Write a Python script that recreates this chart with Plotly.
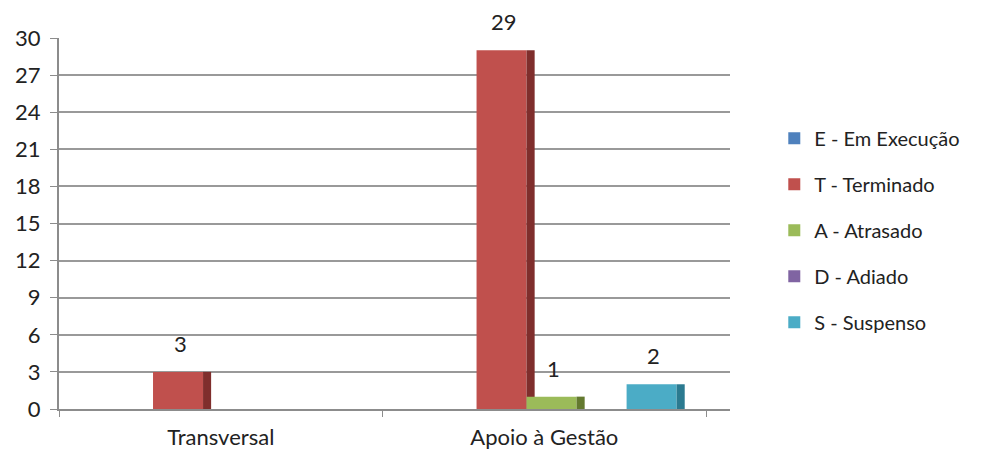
import plotly.graph_objects as go

categorias = ['Transversal', 'Apoio à Gestão']
series = ['E - Em Execução', 'T - Terminado', 'A - Atrasado', 'D - Adiado', 'S - Suspenso']
valores = {
    'E - Em Execução': [0, 0],
    'T - Terminado': [3, 29],
    'A - Atrasado': [0, 1],
    'D - Adiado': [0, 0],
    'S - Suspenso': [0, 2],
}
cores = ['#4F81BD', '#C0504D', '#9BBB59', '#8064A2', '#4BACC6']
sombras = ['#2E5283', '#7F2E2C', '#63792F', '#4F3B6A', '#2B7A90']
yticks = [0, 3, 6, 9, 12, 15, 18, 21, 24, 27, 30]

w = 0.1546     # largura de cada barra (frente)
ws = 0.025     # largura da face lateral
base = -0.364  # deslocamento da primeira serie
cat_px = 323.5  # largura de uma categoria em pixels

f = go.Figure()
anots = []
for i, nome in enumerate(series):
    v = valores[nome]
    off = base + i * w
    f.add_trace(go.Bar(
        x=categorias, y=v, name=nome, legendgroup=nome,
        marker=dict(color=cores[i], line=dict(width=0)),
        width=w, offset=off,
    ))
    # face lateral escura (efeito 3D)
    f.add_trace(go.Bar(
        x=categorias, y=v, legendgroup=nome, showlegend=False,
        marker=dict(color=sombras[i], line=dict(width=0)),
        width=ws, offset=off + w, hoverinfo='skip',
    ))
    for c, val in zip(categorias, v):
        if val:
            anots.append(dict(x=c, y=val, text=str(val), showarrow=False,
                              xshift=(off + w / 2) * cat_px + 2, yshift=13,
                              yanchor='bottom', font=dict(size=22, color='#222')))

f.update_layout(
    width=984, height=455,
    barmode='overlay',
    plot_bgcolor='white', paper_bgcolor='white',
    font=dict(family='Lato, Open Sans, sans-serif', size=22, color='#222'),
    margin=dict(l=51, r=262, t=30, b=54, autoexpand=False),
    annotations=anots,
    legend=dict(x=1.066, y=0.482, yanchor='middle', xanchor='left',
                tracegroupgap=17, font=dict(size=20)),
    xaxis=dict(range=[-0.5, 1.574], showline=True, linecolor='#8c8c8c', linewidth=2,
               tickson='boundaries', ticks='outside', ticklen=6, tickcolor='#8c8c8c',
               ticklabelstandoff=8),
    yaxis=dict(range=[0, 30], tickvals=yticks, showgrid=True, gridcolor='#999',
               gridwidth=2, showline=True, linecolor='#8c8c8c', linewidth=2,
               ticks='outside', ticklen=7, tickcolor='#8c8c8c', zeroline=False,
               ticklabelstandoff=5),
)
f.write_html("out.html")
